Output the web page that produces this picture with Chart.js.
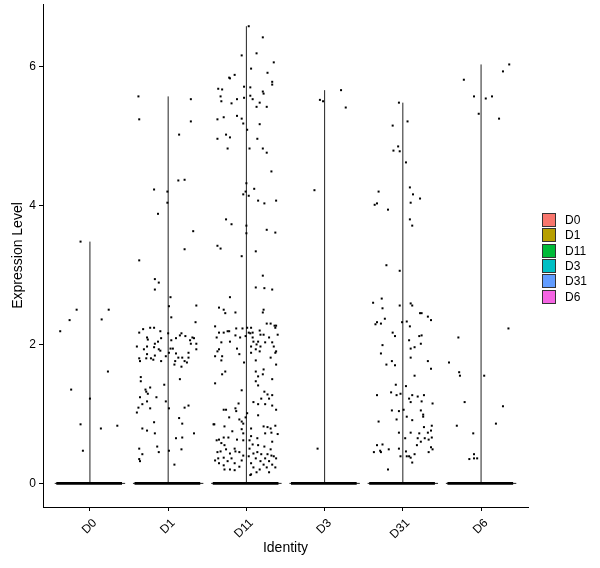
<!DOCTYPE html>
<html>
<head>
<meta charset="utf-8">
<script src="https://cdn.jsdelivr.net/npm/chart.js@4"></script>
<style>
html, body { margin: 0; padding: 0; background: #fff; }
</style>
</head>
<body>
<canvas id="myChart" width="600" height="568"></canvas>
<script>
// categories and legend
const categories = ['D0', 'D1', 'D11', 'D3', 'D31', 'D6']
const legendColors = ['#F8766D', '#B79F00', '#00BA38', '#00BFC4', '#619CFF', '#F564E3']
const yTicks = [0, 2, 4, 6]

// cells with a non-zero value: [jitter offset from the category, expression level]
const d0Points = [[-0.12,3.48],[-0.17,2.50],[0.24,2.50],[-0.26,2.35],[0.15,2.36],[-0.38,2.19],[0.23,1.61],[-0.24,1.35],[0.00,1.22],[-0.12,0.85],[0.14,0.79],[0.35,0.83],[-0.09,0.47]]

const d1Points = [[-0.38,5.57],[0.29,5.53],[-0.37,5.24],[0.29,5.21],[0.14,5.02],[0.13,4.36],[0.21,4.37],[-0.18,4.23],[-0.01,4.20],[-0.01,4.04],[-0.13,3.88],[0.32,3.63],[0.21,3.37],[-0.37,3.21],[-0.17,2.94],[-0.12,2.89],[-0.17,2.79],
  [0.03,2.68],[0.01,2.55],[0.36,2.56],[0.04,2.39],[0.35,2.32],[-0.23,2.24],[-0.18,2.24],[-0.32,2.22],[-0.37,2.17],[-0.10,2.19],[0.00,2.16],[0.17,2.16],[-0.27,2.10],[-0.26,2.07],[-0.09,2.09],[0.10,2.09],[0.15,2.13],[0.22,2.12],[0.31,2.10],[0.33,2.09],[0.04,2.06],[0.28,2.06],[-0.13,2.04],[-0.17,2.01],[0.29,2.01],[0.36,2.01],
  [-0.40,1.97],[-0.27,1.97],[-0.18,1.96],[-0.12,1.93],[-0.10,1.91],[0.36,1.93],[-0.31,1.93],[0.03,1.94],[0.06,1.94],[0.01,1.88],[0.26,1.88],[0.10,1.87],[-0.27,1.86],[-0.17,1.84],[-0.03,1.83],[-0.37,1.80],[-0.28,1.80],[-0.22,1.80],[-0.19,1.78],[0.13,1.81],[0.18,1.81],[0.26,1.81],[-0.36,1.76],[-0.09,1.76],[0.09,1.76],[0.21,1.76],[0.24,1.74],[0.08,1.71],[0.17,1.68],
  [-0.35,1.53],[-0.35,1.47],[0.15,1.50],[-0.23,1.38],[-0.29,1.35],[-0.28,1.32],[-0.05,1.42],[-0.26,1.29],[-0.36,1.24],[-0.15,1.24],[-0.03,1.18],[-0.27,1.18],[-0.33,1.14],[0.26,1.12],[-0.38,1.09],[-0.23,1.08],[0.01,1.08],[0.21,1.09],[-0.40,1.02],[0.14,0.94],[-0.18,0.88],[0.18,0.86],
  [-0.33,0.79],[-0.27,0.76],[-0.17,0.72],[0.33,0.72],[0.10,0.65],[0.18,0.66],[-0.14,0.53],[-0.37,0.50],[0.17,0.49],[-0.12,0.45],[0.01,0.47],[-0.33,0.42],[-0.37,0.35],[-0.36,0.32],[0.08,0.27]]

const d11Points = [[0.03,6.58],[0.21,6.42],[0.13,6.19],[-0.06,6.16],[0.35,6.06],[0.06,5.97],[0.27,5.91],[-0.15,5.88],[-0.22,5.84],[-0.21,5.83],[0.33,5.78],[0.33,5.74],[-0.03,5.71],[0.05,5.70],[-0.36,5.68],[-0.31,5.67],[0.21,5.64],[0.22,5.61],[-0.33,5.57],[0.05,5.58],[-0.03,5.55],[-0.12,5.53],[0.08,5.53],[-0.32,5.50],[0.17,5.48],[-0.19,5.47],[0.13,5.42],[0.26,5.42],
  [-0.12,5.29],[-0.06,5.25],[-0.29,5.27],[-0.37,5.24],[-0.04,5.18],[0.17,5.17],[0.01,5.09],[-0.26,5.02],[-0.21,4.98],[-0.37,4.96],[0.14,4.96],[-0.24,4.82],[0.04,4.82],[0.21,4.82],[0.26,4.76],[0.32,4.49],[0.00,4.32],[0.10,4.24],[-0.01,4.20],[-0.04,4.16],[0.03,4.14],[0.15,4.07],[0.23,4.03],[0.38,4.07],
  [-0.26,3.80],[-0.19,3.73],[0.00,3.71],[0.26,3.65],[0.00,3.60],[0.37,3.61],[-0.37,3.42],[-0.33,3.38],[0.12,3.34],[-0.06,3.27],[0.21,2.99],
  [0.12,2.82],[0.23,2.81],[0.33,2.79],[-0.21,2.68],[-0.35,2.53],[-0.29,2.50],[-0.27,2.45],[-0.14,2.46],[0.22,2.50],[0.21,2.46],[0.26,2.30],[0.31,2.30],[0.36,2.27],[0.38,2.27],[-0.40,2.26],[0.37,2.24],[-0.13,2.23],[-0.05,2.23],[0.01,2.24],[0.06,2.24],
  [-0.24,2.19],[-0.22,2.19],[-0.35,2.17],[-0.29,2.17],[0.03,2.17],[0.05,2.16],[0.08,2.17],[0.17,2.20],[0.18,2.14],[0.22,2.14],[0.40,2.14],[-0.14,2.13],[-0.38,2.10],[-0.08,2.10],[-0.01,2.12],[0.08,2.10],[0.29,2.10],[0.09,2.04],[0.15,2.04],[-0.21,2.04],[-0.32,2.03],[0.24,2.03],[0.33,2.03],[0.13,2.00],
  [0.06,1.97],[0.18,1.97],[0.35,1.97],[-0.12,1.94],[-0.35,1.93],[0.12,1.93],[-0.37,1.90],[0.38,1.90],[0.17,1.90],[0.06,1.88],[-0.09,1.86],[0.37,1.88],[-0.40,1.83],[-0.31,1.83],[0.31,1.81],[-0.32,1.77],[-0.03,1.74],[0.38,1.71],[0.12,1.77],
  [-0.27,1.61],[-0.31,1.57],[0.12,1.61],[0.22,1.64],[0.15,1.54],[0.21,1.57],[0.33,1.50],[-0.40,1.44],[0.12,1.47],[-0.06,1.34],[0.15,1.41],[0.23,1.32],[0.27,1.28],[0.33,1.27],[0.19,1.22],[0.29,1.22],[0.09,1.17],[0.15,1.14],[0.24,1.14],[0.33,1.12],[-0.10,1.15],
  [0.38,1.06],[-0.29,1.06],[-0.26,1.06],[-0.14,1.08],[-0.13,1.04],[0.01,1.01],[-0.01,0.95],[0.15,0.98],[-0.22,0.95],[-0.09,0.92],[-0.06,0.89],[-0.04,0.86],[-0.41,0.85],[-0.42,0.85],[-0.28,0.82],[0.06,0.79],[0.22,0.82],[0.27,0.81],[0.31,0.79],[0.37,0.83],
  [-0.06,0.78],[-0.18,0.75],[-0.04,0.72],[0.32,0.73],[0.24,0.72],[0.40,0.71],[0.06,0.68],[-0.29,0.66],[-0.35,0.63],[-0.23,0.66],[-0.12,0.63],[0.14,0.65],[-0.38,0.62],[-0.04,0.62],[0.04,0.62],[0.33,0.60],[-0.32,0.58],[0.08,0.56],[-0.28,0.55],[0.15,0.55],[0.23,0.53],
  [-0.15,0.50],[0.04,0.50],[-0.26,0.49],[0.31,0.49],[-0.33,0.46],[-0.37,0.45],[-0.14,0.46],[-0.09,0.45],[-0.21,0.43],[0.09,0.43],[0.14,0.45],[0.19,0.42],[0.27,0.42],[0.32,0.40],[0.35,0.39],[-0.04,0.40],[0.03,0.39],
  [-0.29,0.37],[-0.36,0.36],[-0.19,0.36],[0.12,0.36],[0.24,0.36],[0.38,0.36],[-0.06,0.33],[-0.40,0.33],[-0.24,0.32],[0.18,0.32],[0.29,0.32],[-0.35,0.29],[-0.15,0.29],[0.06,0.29],[0.22,0.27],[0.33,0.27],[-0.29,0.26],[-0.09,0.24],[0.09,0.23],[0.26,0.23],[0.37,0.23],
  [-0.21,0.20],[0.17,0.20],[-0.15,0.19],[-0.28,0.20],[0.13,0.16],[0.29,0.16],[0.06,0.13],[0.05,0.12]]

const d3Points = [[-0.13,4.22],[-0.06,5.52],[-0.02,5.50],[0.21,5.66],[0.27,5.41],[-0.09,0.50]]

const d31Points = [[-0.05,5.48],[0.06,5.21],[-0.13,5.15],[-0.06,4.85],[-0.12,4.79],[-0.04,4.78],[0.04,4.62],[0.09,4.26],[-0.31,4.20],[0.13,4.16],[0.22,4.10],[-0.33,4.03],[-0.36,4.01],[0.10,4.04],[-0.19,3.94],[0.09,3.80],[0.12,3.71],[-0.21,3.14],[-0.04,3.06],
  [-0.27,2.66],[-0.38,2.60],[0.10,2.59],[0.12,2.56],[-0.04,2.56],[-0.26,2.52],[0.22,2.45],[0.24,2.45],[0.32,2.40],[-0.23,2.37],[0.36,2.35],[-0.01,2.32],[0.05,2.33],[-0.33,2.32],[-0.28,2.30],[-0.35,2.29],[0.09,2.26],[-0.13,2.17],[-0.10,2.12],[0.24,2.13],[0.21,2.12],[0.08,2.06],[0.23,2.01],
  [-0.26,1.99],[0.15,1.96],[0.10,1.94],[-0.28,1.87],[0.10,1.81],[0.32,1.76],[-0.14,1.76],[-0.21,1.71],[-0.10,1.70],[0.36,1.65],[0.15,1.55],[-0.09,1.42],[0.04,1.40],
  [-0.33,1.27],[-0.15,1.31],[-0.08,1.27],[-0.03,1.29],[0.12,1.27],[0.19,1.25],[0.27,1.27],[0.08,1.22],[0.24,1.18],[0.10,1.17],[0.38,1.15],[0.01,1.06],[-0.14,1.05],[-0.05,1.04],[0.23,1.05],[0.26,0.99],[0.26,0.96],[0.05,0.96],[-0.08,0.92],[0.12,0.91],[-0.31,0.89],
  [0.37,0.83],[0.27,0.81],[0.36,0.76],[-0.05,0.73],[0.10,0.73],[0.21,0.72],[0.32,0.73],[0.03,0.65],[0.19,0.65],[0.28,0.65],[0.33,0.63],[0.37,0.66],[0.23,0.60],[-0.33,0.55],[-0.26,0.56],[0.18,0.55],[0.36,0.52],[0.38,0.49],[-0.18,0.49],[-0.05,0.50],
  [-0.37,0.45],[-0.29,0.47],[-0.28,0.45],[0.04,0.46],[0.15,0.42],[0.33,0.45],[-0.03,0.39],[0.05,0.39],[0.08,0.39],[0.10,0.37],[0.12,0.30],[-0.19,0.20]]

const d6Points = [[0.36,6.03],[0.28,5.93],[-0.22,5.81],[-0.09,5.57],[0.14,5.57],[0.06,5.54],[-0.03,5.32],[0.23,5.25],[0.35,2.23],[-0.29,2.10],[-0.41,1.74],[-0.28,1.60],[-0.27,1.55],[0.04,1.55],[-0.21,1.17],[0.28,1.11],[-0.31,0.83],[0.19,0.86],[-0.10,0.72],[-0.09,0.42],[-0.15,0.35],[-0.09,0.36],[-0.05,0.36]]

const pointsByCategory = [d0Points, d1Points, d11Points, d3Points, d31Points, d6Points]

// the many zero cells are jittered across this band, the violin base spans violinHalf
const zeroBand = [-0.43, 0.41]
const violinHalf = 0.45

const datasets = []
pointsByCategory.forEach((pts, i) => {
    const c = i + 1
    datasets.push({
        type: 'scatter',
        label: categories[i],
        data: pts.map(([dx, v]) => ({ x: c + dx, y: v })),
        pointStyle: 'rect',
        pointRadius: 1.42,
        pointBorderWidth: 0,
        backgroundColor: '#000',
        order: 0
    })
    // violin: vertical spine up to the highest cell
    datasets.push({
        type: 'line',
        data: [{ x: c, y: 0 }, { x: c, y: Math.max(...pts.map(p => p[1])) }],
        borderColor: '#222',
        borderWidth: 1,
        pointRadius: 0,
        order: 1
    })
    // violin base
    datasets.push({
        type: 'line',
        data: [{ x: c - violinHalf, y: 0 }, { x: c + violinHalf, y: 0 }],
        borderColor: '#222',
        borderWidth: 1,
        pointRadius: 0,
        order: 1
    })
    // zero-valued cells
    datasets.push({
        type: 'line',
        data: [{ x: c + zeroBand[0], y: 0 }, { x: c + zeroBand[1], y: 0 }],
        borderColor: '#000',
        borderWidth: 2.6,
        pointRadius: 0,
        order: 0
    })
})

const sideLegend = {
    id: 'sideLegend',
    afterDraw(chart) {
        const ctx = chart.ctx
        ctx.save()
        ctx.font = '12px "Liberation Sans", Arial, sans-serif'
        ctx.textBaseline = 'middle'
        categories.forEach((name, i) => {
            const top = Math.round(213 + i * 15.3) + 0.5
            ctx.fillStyle = legendColors[i]
            ctx.fillRect(542.5, top, 13, 13)
            ctx.strokeStyle = '#333'
            ctx.lineWidth = 1
            ctx.strokeRect(542.5, top, 13, 13)
            ctx.fillStyle = '#000'
            ctx.fillText(name, 565, top + 7)
        })
        ctx.restore()
    }
}

const noEdgePadding = (axis) => {
    axis.paddingTop = 0
    axis.paddingBottom = 0
    axis.paddingLeft = 0
    axis.paddingRight = 0
}

Chart.defaults.font.family = '"Liberation Sans", Arial, sans-serif'
Chart.defaults.color = '#000'

const ctx = document.getElementById('myChart').getContext('2d')
const myChart = new Chart(ctx, {
    type: 'scatter',
    data: { datasets: datasets },
    plugins: [sideLegend],
    options: {
        responsive: false,
        animation: false,
        layout: { padding: { left: 0, top: 3, right: 72, bottom: 0 } },
        plugins: {
            legend: { display: false },
            tooltip: { enabled: false }
        },
        scales: {
            x: {
                type: 'linear',
                min: 0.4,
                max: 6.6,
                afterFit: (axis) => { axis.height = 61; noEdgePadding(axis) },
                afterBuildTicks: (axis) => { axis.ticks = categories.map((c, i) => ({ value: i + 1 })) },
                ticks: {
                    autoSkip: false,
                    minRotation: 45,
                    maxRotation: 45,
                    padding: 5,
                    labelOffset: 5,
                    font: { size: 12 },
                    color: '#000',
                    callback: (val) => categories[val - 1]
                },
                grid: { drawOnChartArea: false, drawTicks: true, tickLength: 4, tickColor: '#000' },
                border: { display: true, color: '#000', width: 1 },
                title: { display: true, text: 'Identity', font: { size: 14 }, color: '#000', padding: { top: 0, bottom: 11 } }
            },
            y: {
                min: -0.34,
                max: 6.9,
                afterFit: (axis) => { axis.width = 43; noEdgePadding(axis) },
                afterBuildTicks: (axis) => { axis.ticks = yTicks.map(v => ({ value: v })) },
                ticks: { padding: 3, font: { size: 12 }, color: '#000' },
                grid: { drawOnChartArea: false, drawTicks: true, tickLength: 4, tickColor: '#000' },
                border: { display: true, color: '#000', width: 1 },
                title: { display: true, text: 'Expression Level', font: { size: 14 }, color: '#000', padding: { top: 10, bottom: 0 } }
            }
        }
    }
})
</script>
</body>
</html>
